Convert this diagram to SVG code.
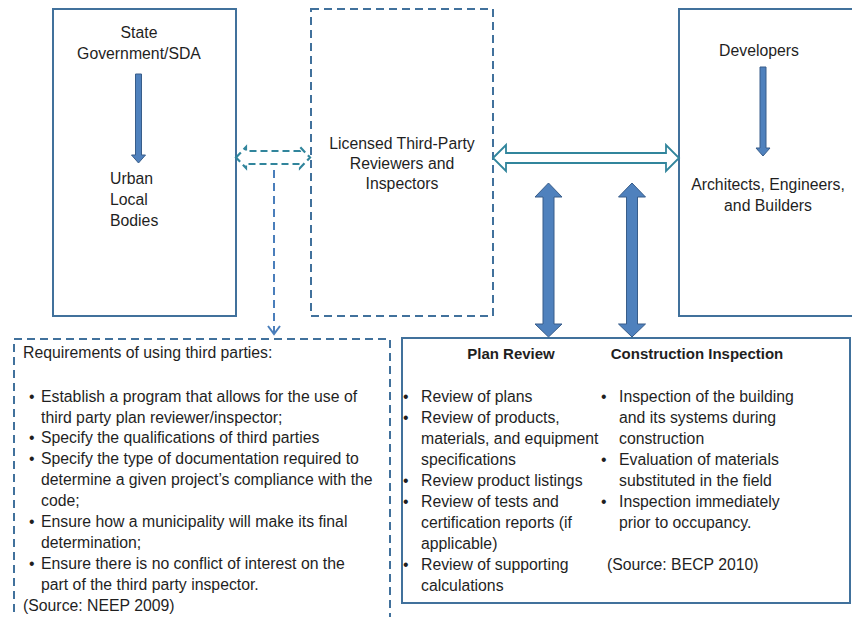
<svg xmlns="http://www.w3.org/2000/svg" width="852" height="617" viewBox="0 0 852 617">
<style>
text{font-family:"Liberation Sans",Arial,sans-serif;font-size:15.8px;fill:#1f1f1f}
.c{text-anchor:middle}
.b{font-weight:bold;font-size:15px}
.box{fill:#fff;stroke:#41719C;stroke-width:2}
.dash{stroke-dasharray:8 5}
.blue{fill:#4F81BD;stroke:#385D8A;stroke-width:1}
.teal{fill:#fff;stroke:#31859C;stroke-width:1.8}
</style>
<rect width="852" height="617" fill="#fff"/>
<g id="state">
<rect class="box" x="53" y="9" width="183" height="307"/>
<text class="c" x="139" y="38">State</text>
<text class="c" x="139" y="59">Government/SDA</text>
<polygon class="blue" points="135.5,74 141.5,74 141.5,155 145.5,155 138.5,163 131.5,155 135.5,155"/>
<text x="110" y="184">Urban</text>
<text x="110" y="205">Local</text>
<text x="110" y="226">Bodies</text>
</g>
<g id="licensed">
<rect class="box dash" x="311" y="9" width="182" height="307"/>
<text class="c" x="402" y="149">Licensed Third-Party</text>
<text class="c" x="402" y="169">Reviewers and</text>
<text class="c" x="402" y="189">Inspectors</text>
</g>
<g id="developers">
<rect class="box" x="679" y="9" width="200" height="307"/>
<text class="c" x="759" y="56">Developers</text>
<polygon class="blue" points="760,67 766,67 766,148 770,148 763,156 756,148 760,148"/>
<text class="c" x="768" y="190">Architects, Engineers,</text>
<text class="c" x="768" y="211">and Builders</text>
</g>
<g id="requirements">
<rect class="box dash" x="14" y="339" width="376" height="300"/>
<text x="23" y="358">Requirements of using third parties:</text>
<g>
<text x="29" y="402">•</text><text x="41" y="402">Establish a program that allows for the use of</text>
<text x="41" y="423">third party plan reviewer/inspector;</text>
<text x="29" y="443">•</text><text x="41" y="443">Specify the qualifications of third parties</text>
<text x="29" y="464">•</text><text x="41" y="464">Specify the type of documentation required to</text>
<text x="41" y="485">determine a given project’s compliance with the</text>
<text x="41" y="506">code;</text>
<text x="29" y="527">•</text><text x="41" y="527">Ensure how a municipality will make its final</text>
<text x="41" y="548">determination;</text>
<text x="29" y="569">•</text><text x="41" y="569">Ensure there is no conflict of interest on the</text>
<text x="41" y="590">part of the third party inspector.</text>
</g>
<text x="23" y="611">(Source: NEEP 2009)</text>
</g>
<g id="review">
<rect class="box" x="402" y="338" width="448" height="265"/>
<text class="c b" x="511" y="359">Plan Review</text>
<text class="c b" x="697" y="359">Construction Inspection</text>
<text x="403" y="402">•</text><text x="421" y="402">Review of plans</text>
<text x="403" y="423">•</text><text x="421" y="423">Review of products,</text>
<text x="421" y="444">materials, and equipment</text>
<text x="421" y="465">specifications</text>
<text x="403" y="486">•</text><text x="421" y="486">Review product listings</text>
<text x="403" y="507">•</text><text x="421" y="507">Review of tests and</text>
<text x="421" y="528">certification reports (if</text>
<text x="421" y="549">applicable)</text>
<text x="403" y="570">•</text><text x="421" y="570">Review of supporting</text>
<text x="421" y="591">calculations</text>
<text x="601" y="402">•</text><text x="619" y="402">Inspection of the building</text>
<text x="619" y="423">and its systems during</text>
<text x="619" y="444">construction</text>
<text x="601" y="465">•</text><text x="619" y="465">Evaluation of materials</text>
<text x="619" y="486">substituted in the field</text>
<text x="601" y="507">•</text><text x="619" y="507">Inspection immediately</text>
<text x="619" y="528">prior to occupancy.</text>
<text x="607" y="570">(Source: BECP 2010)</text>
</g>
<g id="connectors">
<polygon fill="#fff" stroke="#31859C" stroke-width="2.2" stroke-dasharray="7 4" points="236,157.5 246,147 246,151 300,151 300,147 310,157.5 300,168 300,164 246,164 246,168"/>
<line x1="274" y1="170" x2="274" y2="334" stroke="#4A7EBB" stroke-width="2" stroke-dasharray="8 5"/>
<polyline points="268,326 274,334 280,326" fill="none" stroke="#4A7EBB" stroke-width="2"/>
<polygon class="teal" points="493,158 506,145 506,153 666,153 666,145 679,158 666,171 666,163 506,163 506,171"/>
<polygon class="blue" points="548.5,183 562,197 554,197 554,324 562,324 548.5,337 535,324 543,324 543,197 535,197"/>
<polygon class="blue" points="632,183 645.5,197 637.5,197 637.5,324 645.5,324 632,337 618.5,324 626.5,324 626.5,197 618.5,197"/>
</g>
</svg>
